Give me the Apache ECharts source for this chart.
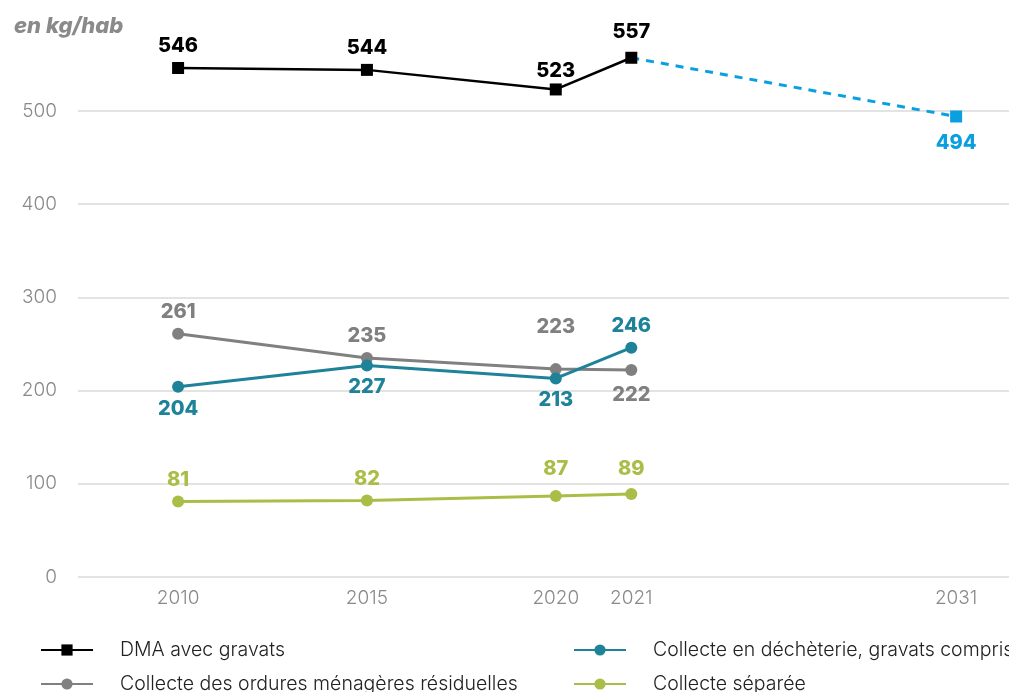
<!DOCTYPE html>
<html><head><meta charset="utf-8">
<script src="https://cdn.jsdelivr.net/npm/echarts@6/dist/echarts.min.js"></script>
<style>html,body{margin:0;padding:0;background:#fff}#c{width:1009px;height:692px}</style>
</head><body><div id="c"></div>
<script>
// ---- data ----
const years = ['2010', '2015', '2020', '2021'];
const projYears = ['2021', '2031'];
const dma = [546, 544, 523, 557];
const dmaProjection = [557, 494];
const omr = [261, 235, 223, 222];
const decheterie = [204, 227, 213, 246];
const separee = [81, 82, 87, 89];
const yTicks = [0, 100, 200, 300, 400, 500];
const names = ['DMA avec gravats', 'Collecte des ordures ménagères résiduelles',
  'Collecte en déchèterie, gravats compris', 'Collecte séparée'];

// ---- axis mapping (uneven spacing of the source's x axis) ----
const slotOf = {'2010': 0, '2015': 5, '2020': 10, '2021': 12, '2031': 20.6};
const allYears = ['2010', '2015', '2020', '2021', '2031'];

const FONT = 'Inter';
function pts(ys, vals, labelCfg) {
  return ys.map((y, i) => {
    const item = {value: [slotOf[y], vals[i]]};
    if (labelCfg && labelCfg[i]) item.label = labelCfg[i];
    return item;
  });
}
const lbl = (color) => ({show: true, color: color, fontFamily: FONT, fontWeight: 800, fontSize: 20,
  formatter: p => p.value[1]});
const legendText = {fontFamily: FONT, fontWeight: 300, fontSize: 19.5, color: '#222', padding: [0, 0, 0, 22]};
const leg = (name, left, top) => ({data: [name], orient: 'horizontal', left: left, top: top, padding: 0,
  itemWidth: 52, itemHeight: 14, textStyle: legendText});

const chart = echarts.init(document.getElementById('c'), null, {renderer: 'canvas'});
chart.setOption({
  animation: false,
  backgroundColor: '#fff',
  title: {text: 'en kg/hab', left: 9, top: 10,
    textStyle: {fontFamily: FONT, fontStyle: 'italic', fontWeight: 800, fontSize: 22, color: '#8a8a8a'}},
  grid: {left: 78, right: 0, top: 27, bottom: 115, containLabel: false},
  xAxis: {type: 'value', min: -2.65, max: 22,
    axisLine: {show: false}, axisTick: {show: false}, splitLine: {show: false},
    axisLabel: {customValues: allYears.map(y => slotOf[y]), margin: 12,
      formatter: v => allYears.find(y => Math.abs(slotOf[y] - v) < 1e-6) || '',
      color: '#8a8a8a', fontFamily: FONT, fontWeight: 300, fontSize: 19}},
  yAxis: {type: 'value', min: 0, max: 590, interval: 100,
    axisLine: {show: false}, axisTick: {show: false},
    splitLine: {show: true, showMaxLine: false, lineStyle: {color: '#e3e3e3', width: 2}},
    axisLabel: {showMaxLabel: false, margin: 21, color: '#8a8a8a', fontFamily: FONT, fontWeight: 300, fontSize: 19,
      formatter: v => yTicks.includes(v) ? String(v) : ''}},
  legend: [
    leg(names[0], 40, 640), leg(names[1], 40, 674),
    leg(names[2], 573, 640), leg(names[3], 573, 674)
  ],
  series: [
    {name: names[1], type: 'line', data: pts(years, omr, [null, null, {distance: 26}, {position: 'bottom', distance: 9}]),
      color: '#808080', symbol: 'circle', symbolSize: 12, lineStyle: {width: 3},
      label: Object.assign(lbl('#808080'), {position: 'top', distance: 6}), z: 2},
    {name: names[2], type: 'line', data: pts(years, decheterie, [null, null, null, {position: 'top', distance: 6}]),
      color: '#1e8299', symbol: 'circle', symbolSize: 12, lineStyle: {width: 3},
      label: Object.assign(lbl('#1e8299'), {position: 'bottom', distance: 6}), z: 3},
    {name: names[3], type: 'line', data: pts(years, separee, [null, null, {distance: 11}, {distance: 9}]),
      color: '#a9be47', symbol: 'circle', symbolSize: 12, lineStyle: {width: 3},
      label: Object.assign(lbl('#a9be47'), {position: 'top', distance: 6}), z: 3},
    {name: 'proj', type: 'line', data: pts(projYears, dmaProjection).map((d, i) => i === 0 ? Object.assign(d, {symbol: 'none', label: {show: false}}) : d),
      color: '#0a9fdf', symbol: 'rect', symbolSize: 12, lineStyle: {width: 3, type: [8, 7]},
      label: Object.assign(lbl('#0a9fdf'), {position: 'bottom', distance: 10}), z: 4},
    {name: names[0], type: 'line', data: pts(years, dma, [null, null, {distance: 2}, {distance: 10}]),
      color: '#000000', symbol: 'rect', symbolSize: 12, lineStyle: {width: 2.5},
      label: Object.assign(lbl('#000000'), {position: 'top', distance: 6}), z: 5}
  ]
});
</script></body></html>
